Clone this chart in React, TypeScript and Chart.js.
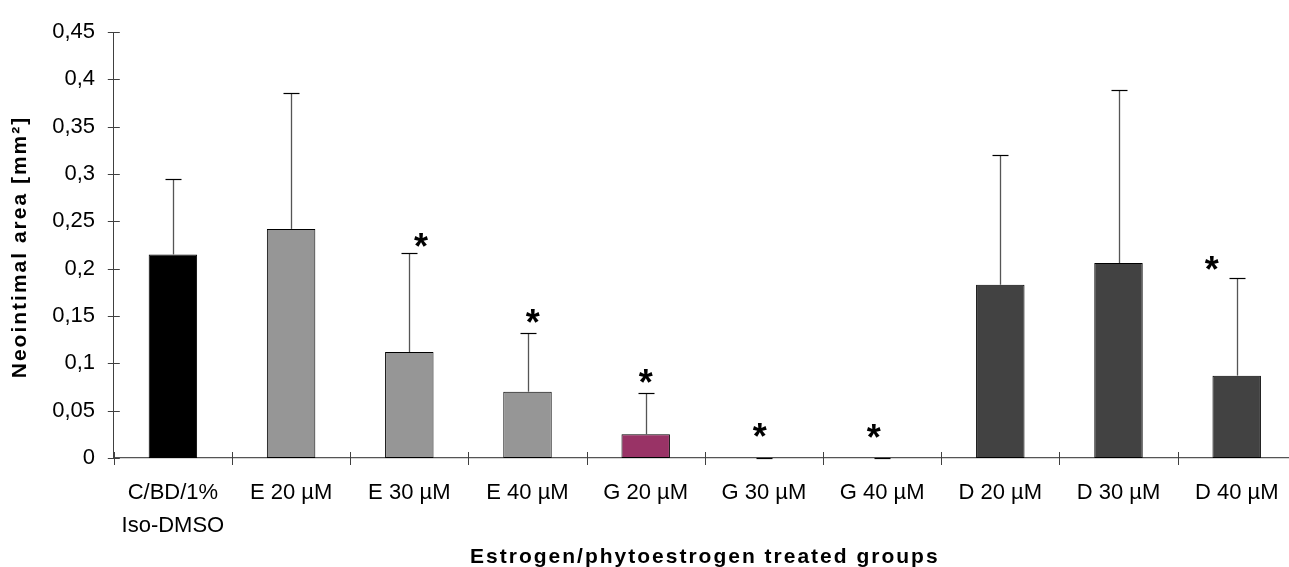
import React, { useEffect, useRef } from 'react';
import { Chart, registerables } from 'chart.js';

Chart.register(...registerables);

const categories: (string | string[])[] = [
  ['C/BD/1%', 'Iso-DMSO'],
  'E 20 µM',
  'E 30 µM',
  'E 40 µM',
  'G 20 µM',
  'G 30 µM',
  'G 40 µM',
  'D 20 µM',
  'D 30 µM',
  'D 40 µM',
];
const means = [0.215, 0.242, 0.112, 0.070, 0.025, 0, 0, 0.183, 0.206, 0.087];
const errors = [0.080, 0.144, 0.105, 0.062, 0.044, 0, 0, 0.137, 0.183, 0.103];
const barColors = ['#000000', '#969696', '#969696', '#969696', '#993366', '#993366', '#993366', '#424242', '#424242', '#424242'];
const starValues: (number | null)[] = [null, null, 0.230, 0.150, 0.0865, 0.030, 0.029, null, null, 0.206];
const starShift = [0, 0, 0.10, 0.045, 0, -0.035, -0.07, 0, 0, -0.21];
const yTickLabels = ['0', '0,05', '0,1', '0,15', '0,2', '0,25', '0,3', '0,35', '0,4', '0,45'];
const yTitle = 'Neointimal area [mm²]';
const xTitle = 'Estrogen/phytoestrogen treated groups';

const FONT = 'Arial, "Liberation Sans", sans-serif';

const overlay = {
  id: 'overlay',
  afterDatasetsDraw(chart: any) {
    const ctx = chart.ctx as CanvasRenderingContext2D;
    const y = chart.scales.y;
    const x = chart.scales.x;
    ctx.save();
    means.forEach((m, i) => {
      const cx = Math.round(x.getPixelForValue(i)) + 0.5;
      const yTop = Math.round(y.getPixelForValue(m + errors[i])) + 0.5;
      const yBase = y.getPixelForValue(m);
      ctx.strokeStyle = '#555555';
      ctx.lineWidth = 1.3;
      ctx.beginPath();
      ctx.moveTo(cx, yBase);
      ctx.lineTo(cx, yTop);
      ctx.stroke();
      ctx.strokeStyle = '#000000';
      ctx.lineWidth = 1.2;
      ctx.beginPath();
      ctx.moveTo(cx - 8, yTop);
      ctx.lineTo(cx + 8, yTop);
      ctx.stroke();
    });
    ctx.font = 'bold 36px ' + FONT;
    ctx.fillStyle = '#000000';
    ctx.textAlign = 'center';
    ctx.textBaseline = 'alphabetic';
    const tm = ctx.measureText('*');
    const asc = tm.actualBoundingBoxAscent;
    const desc = tm.actualBoundingBoxDescent;
    starValues.forEach((v, i) => {
      if (v === null) return;
      const px = x.getPixelForValue(i + starShift[i]);
      const py = y.getPixelForValue(v);
      ctx.fillText('*', px, py + (asc - desc) / 2);
    });
    ctx.restore();
  },
  afterDraw(chart: any) {
    const ctx = chart.ctx as CanvasRenderingContext2D;
    const y = chart.scales.y;
    const x = chart.scales.x;
    const ca = chart.chartArea;
    ctx.save();
    ctx.strokeStyle = '#404040';
    ctx.lineWidth = 1;
    y.ticks.forEach((t: any) => {
      const py = Math.round(y.getPixelForValue(t.value)) + 0.5;
      ctx.beginPath();
      ctx.moveTo(ca.left - 6, py);
      ctx.lineTo(ca.left + 6, py);
      ctx.stroke();
    });
    const half = (x.getPixelForValue(1) - x.getPixelForValue(0)) / 2;
    for (let i = 0; i <= categories.length; i++) {
      const px = Math.round(x.getPixelForValue(i) - half) + 0.5;
      ctx.beginPath();
      ctx.moveTo(px, ca.bottom - 6);
      ctx.lineTo(px, ca.bottom + 7);
      ctx.stroke();
    }
    ctx.fillStyle = '#000000';
    ctx.textAlign = 'center';
    ctx.textBaseline = 'middle';
    ctx.font = 'bold 21px ' + FONT;
    (ctx as any).letterSpacing = '2px';
    ctx.fillText(xTitle, (ca.left + ca.right) / 2, chart.height - 10);
    ctx.translate(20, (ca.top + ca.bottom) / 2 + 2);
    ctx.rotate(-Math.PI / 2);
    ctx.fillText(yTitle, 0, 0);
    (ctx as any).letterSpacing = '0px';
    ctx.restore();
  },
};

export default function App() {
  const canvasRef = useRef<HTMLCanvasElement>(null);

  useEffect(() => {
    const canvas = canvasRef.current;
    if (!canvas) return;
    const chart = new Chart(canvas, {
      type: 'bar',
      data: {
        labels: categories,
        datasets: [
          {
            data: means.map((m) => (m === 0 ? null : m)),
            backgroundColor: barColors,
            borderColor: '#000000',
            borderWidth: 1,
            borderSkipped: false,
            barPercentage: 0.41,
            categoryPercentage: 1,
          },
        ],
      },
      options: {
        responsive: false,
        maintainAspectRatio: false,
        animation: false,
        events: [],
        layout: { padding: { top: 25.5, right: 4.2, bottom: 0, left: 0 } },
        plugins: {
          legend: { display: false },
          tooltip: { enabled: false },
          title: { display: false },
        },
        scales: {
          x: {
            type: 'category',
            offset: true,
            grid: { display: false, drawTicks: false },
            border: { display: true, color: '#555555', width: 1.3 },
            ticks: {
              autoSkip: false,
              maxRotation: 0,
              minRotation: 0,
              padding: 18.5,
              color: '#000000',
              font: { family: FONT, size: 22, lineHeight: '33px' },
            },
            afterFit: (scale: any) => {
              scale.height = 109;
            },
          },
          y: {
            type: 'linear',
            min: 0,
            max: 0.45,
            grid: { display: false, drawTicks: false },
            border: { display: true, color: '#404040', width: 1 },
            ticks: {
              stepSize: 0.05,
              padding: 18.8,
              color: '#000000',
              font: { family: FONT, size: 22 },
              callback: (_v: any, i: number) => yTickLabels[i] ?? '',
            },
            afterFit: (scale: any) => {
              scale.width = 113.8;
            },
          },
        },
      },
      plugins: [overlay],
    } as any);
    return () => chart.destroy();
  }, []);

  return (
    <div style={{ position: 'fixed', left: 0, top: 0, width: '100vw', height: '100vh', overflow: 'hidden', background: '#ffffff' }}>
      <canvas ref={canvasRef} width={1300} height={567} style={{ display: 'block' }} />
    </div>
  );
}
